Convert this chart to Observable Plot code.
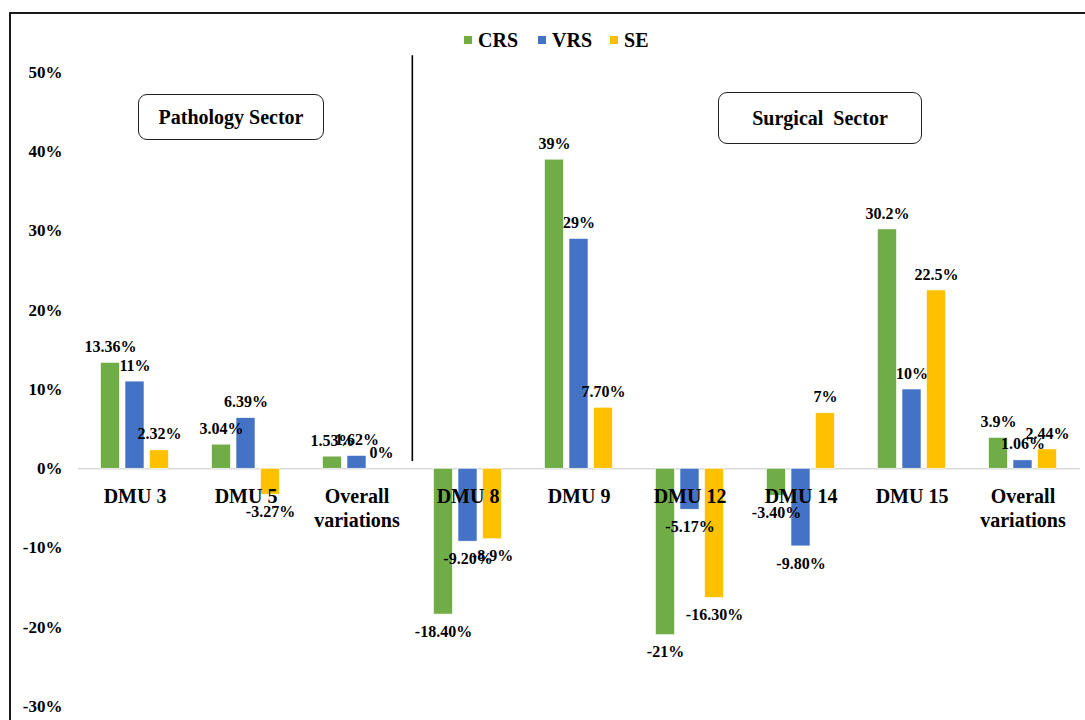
<!DOCTYPE html>
<html>
<head>
<meta charset="utf-8">
<script src="https://cdn.jsdelivr.net/npm/d3@7"></script>
<script src="https://cdn.jsdelivr.net/npm/@observablehq/plot@0.6"></script>
<style>
  html, body { margin: 0; padding: 0; background: #fff; }
  #wrap { position: relative; width: 1085px; height: 720px; overflow: hidden;
          font-family: "Liberation Serif", Tinos, "Times New Roman", "DejaVu Serif", serif; color: #000; }
  #frame { position: absolute; left: 9px; top: 12px; width: 1200px; height: 800px;
           border-top: 2px solid #1a1a1a; border-left: 2px solid #1a1a1a; }
  #chart { position: absolute; left: 0; top: 0; }
  #chart svg, #chart svg text { font-family: "Liberation Serif", Tinos, "Times New Roman", "DejaVu Serif", serif; font-weight: bold; }
  .legend { position: absolute; top: 28px; left: 464px; display: flex; align-items: center;
            font-weight: bold; font-size: 20px; line-height: 24px; }
  .legend .item { display: flex; align-items: center; }
  .legend .sw { width: 8px; height: 8px; margin-right: 6px; }
  .sector { position: absolute; box-sizing: border-box; border: 1.5px solid #222; border-radius: 9px;
            display: flex; align-items: center; justify-content: center; font-weight: bold;
            font-size: 20px; white-space: pre; background: #fff; }
</style>
</head>
<body>
<div id="wrap">
  <div id="chart"></div>
  <div id="frame"></div>
  <div class="legend" id="legend"></div>
  <div class="sector" style="left:138px;top:94px;width:186px;height:46px;">Pathology Sector</div>
  <div class="sector" style="left:718px;top:92px;width:204px;height:52px;">Surgical  Sector</div>
</div>
<script>
// ---- data ----
const categories = ["DMU 3", "DMU 5", "Overall variations (Pathology)", "DMU 8", "DMU 9",
                    "DMU 12", "DMU 14", "DMU 15", "Overall variations (Surgical)"];
const categoryLabels = ["DMU 3", "DMU 5", "Overall\nvariations", "DMU 8", "DMU 9",
                        "DMU 12", "DMU 14", "DMU 15", "Overall\nvariations"];
const seriesNames = ["CRS", "VRS", "SE"];
const crs = [13.36, 3.04, 1.53, -18.4, 39, -21, -3.4, 30.2, 3.9];
const vrs = [11, 6.39, 1.62, -9.2, 29, -5.17, -9.8, 10, 1.06];
const se  = [2.32, -3.27, 0, -8.9, 7.7, -16.3, 7, 22.5, 2.44];
const crsLabels = ["13.36%", "3.04%", "1.53%", "-18.40%", "39%", "-21%", "-3.40%", "30.2%", "3.9%"];
const vrsLabels = ["11%", "6.39%", "1.62%", "-9.20%", "29%", "-5.17%", "-9.80%", "10%", "1.06%"];
const seLabels  = ["2.32%", "-3.27%", "0%", "-8.9%", "7.70%", "-16.30%", "7%", "22.5%", "2.44%"];
const yTicks = [-30, -20, -10, 0, 10, 20, 30, 40, 50];
const dividerSpan = [0.9, 52.1];   // vertical extent of the sector divider (y units)
const dividerBefore = "DMU 8";

// ---- styling / layout ----
const FONT = "'Liberation Serif', Tinos, 'Times New Roman', 'DejaVu Serif', serif";
const colors = {CRS: "#70AD47", VRS: "#4472C4", SE: "#FFC000"};
const W = 1085, H = 720, mL = 78, mR = 5, mT = 72, mB = 14;
const step = (W - mL - mR) / categories.length;
const barW = 19.3, barGap = 24.5;
const pInner = 1 - barW / step;

const values = {CRS: crs, VRS: vrs, SE: se};
const labels = {CRS: crsLabels, VRS: vrsLabels, SE: seLabels};
const rows = {};
seriesNames.forEach(s => {
  rows[s] = categories.map((c, i) => ({cat: c, value: values[s][i], label: labels[s][i]}));
});

const marks = [
  Plot.ruleY([0], {stroke: "#d9d9d9", strokeWidth: 1.5})
];
seriesNames.forEach((s, k) => {
  const dx = (k - 1) * barGap;
  marks.push(Plot.barY(rows[s], {x: "cat", y: "value", fill: colors[s], dx,
                                 stroke: "#fff", strokeWidth: 0.6}));
});
seriesNames.forEach((s, k) => {
  const dx = (k - 1) * barGap;
  marks.push(Plot.text(rows[s].filter(d => d.value >= 0),
    {x: "cat", y: "value", text: "label", dx, dy: -16, fontSize: 16, fontFamily: FONT, fill: "#000"}));
  marks.push(Plot.text(rows[s].filter(d => d.value < 0),
    {x: "cat", y: "value", text: "label", dx, dy: 17, fontSize: 16, fontFamily: FONT, fill: "#000"}));
});
marks.push(Plot.text(categories, {
  x: d => d, y: 0, text: (d, i) => categoryLabels[i],
  dy: 17, lineAnchor: "top", lineHeight: 1.2, fontSize: 20, fontFamily: FONT, fill: "#000"
}));
marks.push(Plot.ruleX([dividerBefore], {
  x: d => d, y1: dividerSpan[0], y2: dividerSpan[1], dx: -step / 2,
  stroke: "#000", strokeWidth: 1.6
}));

const chart = Plot.plot({
  width: W, height: H,
  marginLeft: mL, marginRight: mR, marginTop: mT, marginBottom: mB,
  style: {fontFamily: FONT, fontSize: "17px", color: "#000", background: "transparent"},
  x: {domain: categories, paddingInner: pInner, paddingOuter: pInner / 2, axis: null},
  y: {domain: [-30, 50], ticks: yTicks, tickFormat: d => d + "%", tickSize: 0,
      tickPadding: 16, label: null},
  marks
});
document.getElementById("chart").appendChild(chart);

// legend
const legend = document.getElementById("legend");
seriesNames.forEach((s, k) => {
  const item = document.createElement("div");
  item.className = "item";
  item.style.marginRight = k === 0 ? "20px" : "18px";
  const sw = document.createElement("div");
  sw.className = "sw";
  sw.style.background = colors[s];
  const t = document.createElement("span");
  t.textContent = s;
  item.appendChild(sw);
  item.appendChild(t);
  legend.appendChild(item);
});
</script>
</body>
</html>
